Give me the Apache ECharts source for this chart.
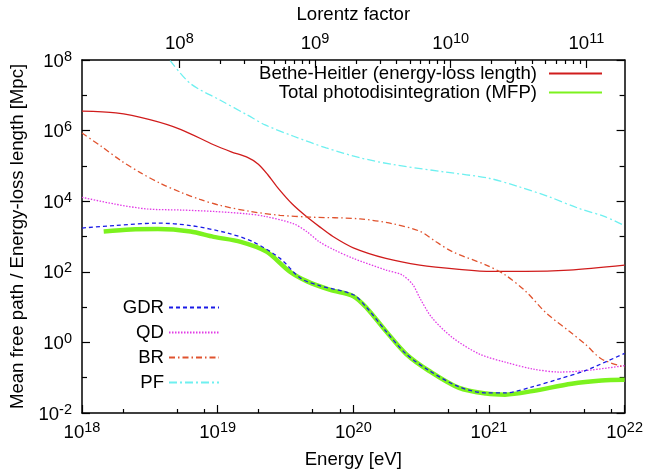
<!DOCTYPE html>
<html><head><meta charset="utf-8">
<script src="https://cdn.jsdelivr.net/npm/echarts@6/dist/echarts.min.js"></script>
<style>html,body{margin:0;padding:0;background:#fff}#c{width:646px;height:476px}</style>
</head><body><div id="c"></div>
<script>
// All values are log10: energy in eV, length in Mpc
const bhLogE = [18.00, 18.25, 18.50, 18.73, 18.97, 19.10, 19.22, 19.30, 19.37, 19.45, 19.55, 19.65, 19.75, 19.85, 20.00, 20.24, 20.49, 20.78, 21.02, 21.27, 21.59, 22.00];
const bhLogL = [6.55, 6.50, 6.31, 6.03, 5.60, 5.40, 5.24, 5.05, 4.75, 4.35, 3.92, 3.58, 3.28, 3.00, 2.68, 2.38, 2.19, 2.07, 2.01, 2.01, 2.05, 2.19];

const totLogE = [18.16, 18.36, 18.56, 18.80, 18.97, 19.17, 19.36, 19.53, 19.66, 19.83, 20.00, 20.10, 20.24, 20.39, 20.56, 20.78, 20.98, 21.12, 21.32, 21.61, 21.83, 22.00];
const totLogL = [3.14, 3.20, 3.21, 3.14, 2.99, 2.85, 2.57, 2.01, 1.73, 1.49, 1.31, 0.97, 0.32, -0.33, -0.81, -1.29, -1.45, -1.48, -1.38, -1.17, -1.08, -1.06];

const gdrLogE = [18.00, 18.24, 18.56, 18.80, 19.07, 19.26, 19.46, 19.61, 19.75, 20.00, 20.10, 20.24, 20.39, 20.56, 20.78, 20.98, 21.12, 21.32, 21.52, 21.71, 22.00];
const gdrLogL = [3.24, 3.31, 3.38, 3.31, 3.10, 2.85, 2.38, 1.82, 1.61, 1.35, 0.98, 0.32, -0.33, -0.80, -1.26, -1.43, -1.43, -1.26, -1.03, -0.80, -0.31];

const qdLogE = [18.00, 18.24, 18.48, 18.73, 18.97, 19.22, 19.35, 19.56, 19.66, 19.75, 19.86, 20.00, 20.24, 20.36, 20.44, 20.49, 20.58, 20.73, 20.93, 21.12, 21.32, 21.52, 21.71, 22.00];
const qdLogL = [4.11, 3.92, 3.78, 3.75, 3.71, 3.64, 3.57, 3.36, 3.13, 2.85, 2.62, 2.38, 2.05, 1.91, 1.63, 1.26, 0.70, 0.14, -0.33, -0.56, -0.75, -0.84, -0.80, -0.66];

const brLogE = [18.00, 18.14, 18.29, 18.43, 18.58, 18.73, 18.87, 19.02, 19.24, 19.46, 19.68, 20.05, 20.29, 20.49, 20.61, 20.73, 20.98, 21.12, 21.27, 21.42, 21.59, 21.71, 21.83, 22.00];
const brLogL = [5.93, 5.56, 5.14, 4.81, 4.50, 4.25, 4.05, 3.88, 3.71, 3.60, 3.55, 3.50, 3.36, 3.15, 2.85, 2.57, 2.19, 1.91, 1.45, 0.84, 0.32, -0.05, -0.47, -0.70];

const pfLogE = [18.65, 18.80, 19.02, 19.22, 19.35, 19.56, 19.80, 20.05, 20.29, 20.67, 21.00, 21.22, 21.44, 21.66, 21.85, 22.00];
const pfLogL = [7.98, 7.33, 6.86, 6.44, 6.16, 5.84, 5.51, 5.23, 5.04, 4.83, 4.65, 4.41, 4.13, 3.80, 3.57, 3.31];

const energyTickExps = [18, 19, 20, 21, 22];
const lengthTickExps = [-2, 0, 2, 4, 6, 8];
const lorentzTickExps = [8, 9, 10, 11];
const lorentzShift = 10.718; // log10(E / gamma) in eV (A = 56)

const seriesNames = ['Bethe-Heitler (energy-loss length)', 'Total photodisintegration (MFP)', 'GDR', 'QD', 'BR', 'PF'];

const FONT = 'Liberation Sans, Arial, sans-serif';
const FS = 18.6;
const pairs = (xs, ys) => xs.map((x, i) => [x, ys[i]]);
const pow10 = (v) => '{b|10}{s|' + v + '}';
const rich = {
  b: { fontSize: FS, lineHeight: 22, verticalAlign: 'bottom', color: '#000', fontFamily: FONT },
  s: { fontSize: 14.5, lineHeight: 12, verticalAlign: 'top', color: '#000', fontFamily: FONT }
};
const minorBottom = [];
for (let d = 18; d < 22; d++) [2, 5, 8].forEach(m => minorBottom.push(d + Math.log10(m)));
const minorTop = [];
for (let d = 8; d < 12; d++) for (let m = 2; m <= 9; m++) { const v = d + Math.log10(m); if (v <= 22 - lorentzShift) minorTop.push(v); }
const minorY = [-1, 1, 3, 5, 7];

const lineAx = { show: true, onZero: false, lineStyle: { color: '#000', width: 1.5 } };
const noLine = { show: false, onZero: false };
const tick = (len, vals) => ({ show: true, inside: true, length: len, lineStyle: { color: '#000', width: 1.2 }, customValues: vals });

const chart = echarts.init(document.getElementById('c'), null, { renderer: 'canvas' });
chart.setOption({
  animation: false,
  textStyle: { fontFamily: FONT },
  grid: { left: 81, right: 20, top: 56, bottom: 63, containLabel: false },
  xAxis: [
    { type: 'value', position: 'bottom', min: 18, max: 22, axisLine: lineAx, splitLine: { show: false },
      axisTick: tick(8, energyTickExps),
      axisLabel: { customValues: energyTickExps, formatter: pow10, rich: rich, margin: 7 },
      name: 'Energy [eV]', nameLocation: 'middle', nameGap: 37,
      nameTextStyle: { fontSize: FS, color: '#000', fontFamily: FONT } },
    { type: 'value', position: 'bottom', min: 18, max: 22, axisLine: noLine, splitLine: { show: false },
      axisTick: tick(4, minorBottom), axisLabel: { show: false } },
    { type: 'value', position: 'top', min: 18 - lorentzShift, max: 22 - lorentzShift, axisLine: lineAx, splitLine: { show: false },
      axisTick: tick(8, lorentzTickExps),
      axisLabel: { customValues: lorentzTickExps, formatter: pow10, rich: rich, margin: 7 },
      name: 'Lorentz factor', nameLocation: 'middle', nameGap: 36,
      nameTextStyle: { fontSize: FS, color: '#000', fontFamily: FONT } },
    { type: 'value', position: 'top', min: 18 - lorentzShift, max: 22 - lorentzShift, axisLine: noLine, splitLine: { show: false },
      axisTick: tick(4, minorTop), axisLabel: { show: false } }
  ],
  yAxis: [
    { type: 'value', position: 'left', min: -2, max: 8, axisLine: lineAx, splitLine: { show: false },
      axisTick: tick(8, lengthTickExps),
      axisLabel: { customValues: lengthTickExps, formatter: pow10, rich: rich, margin: 10 },
      name: 'Mean free path / Energy-loss length [Mpc]', nameLocation: 'middle', nameGap: 55,
      nameTextStyle: { fontSize: FS, color: '#000', fontFamily: FONT } },
    { type: 'value', position: 'left', min: -2, max: 8, axisLine: noLine, splitLine: { show: false },
      axisTick: tick(5, minorY), axisLabel: { show: false } },
    { type: 'value', position: 'right', min: -2, max: 8, axisLine: lineAx, splitLine: { show: false },
      axisTick: tick(8, lengthTickExps), axisLabel: { show: false } },
    { type: 'value', position: 'right', min: -2, max: 8, axisLine: noLine, splitLine: { show: false },
      axisTick: tick(5, minorY), axisLabel: { show: false } }
  ],
  legend: [
    { data: [seriesNames[0], seriesNames[1]], orient: 'vertical', align: 'right', right: 43, top: 64, padding: 0,
      itemWidth: 53, itemHeight: 10, itemGap: 0, selectedMode: false, itemStyle: { opacity: 0 },
      textStyle: { fontSize: FS, lineHeight: 19, color: '#000', fontFamily: FONT, padding: [0, 7, 0, 0] } },
    { data: [seriesNames[2], seriesNames[3], seriesNames[4], seriesNames[5]], orient: 'vertical', align: 'right', right: 426, top: 295, padding: 0,
      itemWidth: 50, itemHeight: 10, itemGap: 0, selectedMode: false, itemStyle: { opacity: 0 },
      textStyle: { fontSize: FS, lineHeight: 25, color: '#000', fontFamily: FONT } }
  ],
  series: [
    { name: seriesNames[0], type: 'line', data: pairs(bhLogE, bhLogL), symbol: 'none', smooth: 0.3, z: 3,
      lineStyle: { color: '#d01c1c', width: 1.3 }, itemStyle: { color: '#d01c1c' } },
    { name: seriesNames[1], type: 'line', data: pairs(totLogE, totLogL), symbol: 'none', smooth: 0.3, z: 2,
      lineStyle: { color: '#7cf21e', width: 4.5 }, itemStyle: { color: '#7cf21e' } },
    { name: seriesNames[2], type: 'line', data: pairs(gdrLogE, gdrLogL), symbol: 'none', smooth: 0.3, z: 4,
      lineStyle: { color: '#1a1ae6', width: 1.3, type: [4, 3] }, itemStyle: { color: '#1a1ae6' } },
    { name: seriesNames[3], type: 'line', data: pairs(qdLogE, qdLogL), symbol: 'none', smooth: 0.3, z: 3,
      lineStyle: { color: '#e23ae6', width: 1.3, type: [1.5, 1.5] }, itemStyle: { color: '#e23ae6' } },
    { name: seriesNames[4], type: 'line', data: pairs(brLogE, brLogL), symbol: 'none', smooth: 0.3, z: 3,
      lineStyle: { color: '#e0532e', width: 1.3, type: [6, 3, 1.5, 3] }, itemStyle: { color: '#e0532e' } },
    { name: seriesNames[5], type: 'line', data: pairs(pfLogE, pfLogL), symbol: 'none', smooth: 0.3, z: 3,
      lineStyle: { color: '#6ef0f0', width: 1.3, type: [8, 3, 2, 3] }, itemStyle: { color: '#6ef0f0' } }
  ]
});
</script></body></html>
